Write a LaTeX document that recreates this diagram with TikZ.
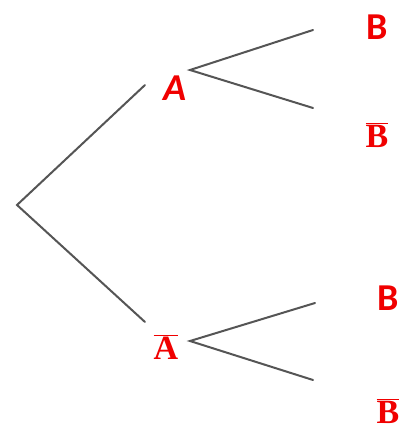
\documentclass[tikz,border=0pt]{standalone}
\usepackage{fontspec}
\newfontfamily\lblsans{Carlito}
\newfontfamily\lblserif{Liberation Serif}
\definecolor{lblred}{RGB}{240,0,0}
\definecolor{branch}{RGB}{85,85,85}
\begin{document}
\begin{tikzpicture}[x=1pt,y=-1pt,
  br/.style={draw=branch,line width=2pt,line cap=round},
  lsans/.style={text=lblred,font=\lblsans\bfseries\fontsize{38}{38}\selectfont,inner sep=0pt},
  lserif/.style={text=lblred,font=\lblserif\bfseries\fontsize{34}{34}\selectfont,inner sep=0pt}]
\useasboundingbox (0,0) rectangle (409,435);
\coordinate (root) at (17,205);
\coordinate (a1) at (145,85);
\coordinate (a2) at (145,322);
\coordinate (f1) at (190,70);
\coordinate (f2) at (190,341);
\coordinate (e1) at (313,30);
\coordinate (e2) at (313,108);
\coordinate (e3) at (315,303);
\coordinate (e4) at (313,380);
\draw[br] (a1) -- (root) -- (a2);
\draw[br] (e1) -- (f1) -- (e2);
\draw[br] (e3) -- (f2) -- (e4);
\node[lsans,font=\lblsans\bfseries\itshape\fontsize{38}{38}\selectfont] (A) at (175,88) {A};
\node[lserif] (Abar) at (166,347) {$\overline{\hbox{A}}$};
\node[lsans] (B1) at (377,27) {B};
\node[lserif] (B2) at (377,135) {$\overline{\hbox{B}}$};
\node[lsans] (B3) at (388,298) {B};
\node[lserif] (B4) at (388,411) {$\overline{\hbox{B}}$};
\end{tikzpicture}
\end{document}
